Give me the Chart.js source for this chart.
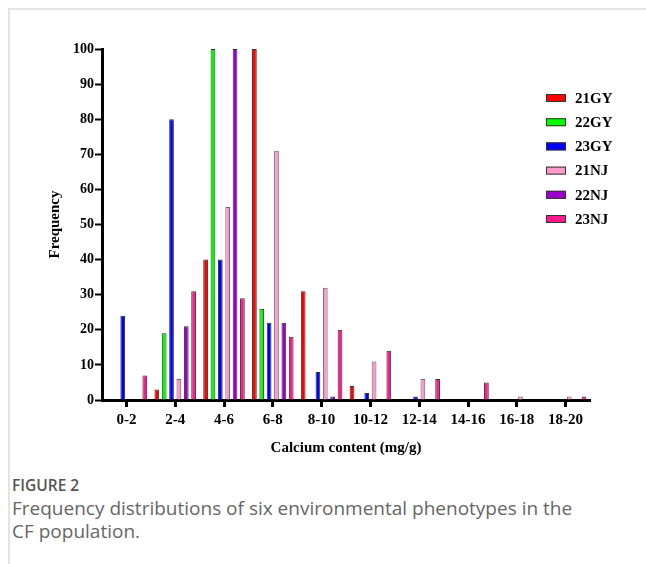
<!DOCTYPE html>
<html>
<head>
<meta charset="utf-8">
<script src="https://cdn.jsdelivr.net/npm/chart.js@4.4.1/dist/chart.umd.min.js"></script>
<style>
  body { margin: 0; background: #fff; width: 646px; height: 564px; position: relative; overflow: hidden; }
  #frame { position: absolute; left: 8px; top: 8px; width: 660px; height: 600px;
           border-top: 2px solid #e4e4e4; border-left: 2px solid #e4e4e4; }
  #wrap { position: absolute; left: 0; top: 0; width: 646px; height: 470px; }
  .cap { position: absolute; left: 12px; font-family: "Open Sans", sans-serif; color: #666; }
  #figno { top: 474px; font-size: 15.5px; color: #555; font-weight: 600; }
  #figtxt { top: 497px; font-size: 19px; line-height: 23px; width: 640px; }
</style>
</head>
<body>
<div id="frame"></div>
<div id="wrap"><canvas id="freqChart"></canvas></div>
<div class="cap" id="figno">FIGURE 2</div>
<div class="cap" id="figtxt">Frequency distributions of six environmental phenotypes in the<br>CF population.</div>
<script>
// Data
const categories = ['0-2', '2-4', '4-6', '6-8', '8-10', '10-12', '12-14', '14-16', '16-18', '18-20'];
const gy21 = [0, 3, 40, 100, 31, 4, 0, 0, 0, 0];
const gy22 = [0, 19, 100, 26, 0, 0, 0, 0, 0, 0];
const gy23 = [24, 80, 40, 22, 8, 2, 1, 0, 0, 0];
const nj21 = [0, 6, 55, 71, 32, 11, 6, 0, 1, 1];
const nj22 = [0, 21, 100, 22, 1, 0, 0, 0, 0, 0];
const nj23 = [7, 31, 29, 18, 20, 14, 6, 5, 0, 1];

const serif = 'Liberation Serif';

function series(label, data, color, border) {
  return {
    label: label,
    data: data,
    backgroundColor: color,
    borderColor: border,
    borderWidth: 1,
    borderSkipped: 'start',
    categoryPercentage: 0.905,
    barPercentage: 0.64
  };
}

// Legend drawn at a fixed spot inside the plot
const sideLegend = {
  id: 'sideLegend',
  afterDraw(chart) {
    const c = chart.ctx;
    c.save();
    c.font = 'bold 15px ' + serif;
    c.textBaseline = 'middle';
    chart.data.datasets.forEach((ds, i) => {
      const y = 98 + i * 24.2;
      c.fillStyle = ds.backgroundColor;
      c.fillRect(546, y - 4, 20, 8);
      c.strokeStyle = '#333';
      c.lineWidth = 1;
      c.strokeRect(546.5, y - 3.5, 19, 7);
      c.fillStyle = '#000';
      c.fillText(ds.label, 575, y + 1);
    });
    c.restore();
  }
};

const ctx = document.getElementById('freqChart').getContext('2d');
const chart = new Chart(ctx, {
  type: 'bar',
  data: {
    labels: categories,
    datasets: [
      series('21GY', gy21, '#ff0000', '#333'),
      series('22GY', gy22, '#00ff00', '#333'),
      series('23GY', gy23, '#0000ff', '#333'),
      series('21NJ', nj21, '#ff99cc', '#666'),
      series('22NJ', nj22, '#9900cc', '#333'),
      series('23NJ', nj23, '#ff1a8c', '#333')
    ]
  },
  options: {
    responsive: true,
    maintainAspectRatio: false,
    animation: false,
    layout: { padding: { top: 49, left: 46, right: 56, bottom: 9 } },
    plugins: {
      legend: { display: false },
      tooltip: { enabled: false }
    },
    scales: {
      x: {
        grid: { display: true, offset: false, drawOnChartArea: false, drawTicks: true,
                tickLength: 7, tickWidth: 3, tickColor: '#000' },
        border: { display: true, width: 3, color: '#000' },
        ticks: { color: '#000', font: { family: serif, size: 15, weight: 'bold' }, padding: 4 },
        title: { display: true, text: 'Calcium content (mg/g)', color: '#000',
                 font: { family: serif, size: 15, weight: 'bold' }, padding: { top: 6 } }
      },
      y: {
        min: 0,
        max: 100,
        grid: { display: true, drawOnChartArea: false, drawTicks: true,
                tickLength: 7, tickWidth: 2, tickColor: '#000' },
        border: { display: true, width: 3, color: '#000' },
        ticks: { stepSize: 10, color: '#000', font: { family: serif, size: 14, weight: 'bold' }, padding: 1 },
        title: { display: true, text: 'Frequency', color: '#000',
                 font: { family: serif, size: 15, weight: 'bold' }, padding: { top: 0, bottom: 8 } }
      }
    }
  },
  plugins: [sideLegend]
});
</script>
</body>
</html>
